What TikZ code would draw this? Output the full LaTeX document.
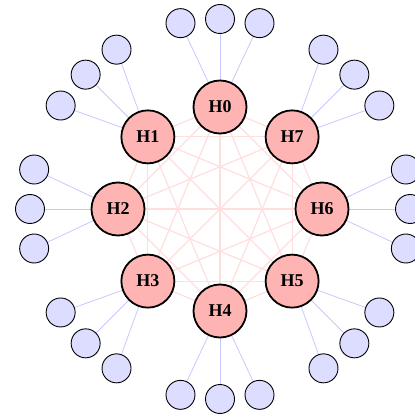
\documentclass[tikz,border=0pt]{standalone}
\usepackage{fontspec}
\setmainfont{Liberation Serif}
\usetikzlibrary{backgrounds}
\definecolor{hubfill}{RGB}{255,180,180}
\definecolor{leaffill}{RGB}{221,221,255}
\definecolor{hublinkc}{RGB}{255,222,222}
\definecolor{leaflinkc}{RGB}{200,200,255}
\begin{document}
\begin{tikzpicture}[
  hub/.style={circle,draw=black,line width=1.8pt,fill=hubfill,minimum size=53pt,inner sep=0pt,
    font=\bfseries\fontsize{18}{18}\selectfont},
  leaf/.style={circle,draw=black,line width=0.9pt,fill=leaffill,minimum size=29pt,inner sep=0pt},
  hublink/.style={draw=hublinkc,line width=1.2pt},
  leaflink/.style={draw=leaflinkc,line width=0.8pt}]
\useasboundingbox (0pt,0pt) rectangle (415pt,-414pt);
\clip (0pt,0pt) rectangle (415pt,-414pt);
\begin{scope}[shift={(220pt,-209pt)}]
  % hubs on the inner ring
  \foreach \k in {0,...,7} {
    \node[hub] (H\k) at ({90+45*\k}:102pt) {H\k};
  }
  % three leaves per hub on the outer ring
  \foreach \k in {0,...,7} {
    \foreach \j/\d in {a/-12,b/0,c/12} {
      \node[leaf] (L\k\j) at ({90+45*\k+\d}:190pt) {};
    }
  }
  \begin{scope}[on background layer]
    % every hub is linked to every other hub
    \foreach \k in {0,...,6} {
      \pgfmathtruncatemacro{\n}{\k+1}
      \foreach \m in {\n,...,7} {
        \draw[hublink] (H\k) -- (H\m);
      }
    }
    % hub-to-leaf links
    \foreach \k in {0,...,7} {
      \foreach \j in {a,b,c} {
        \draw[leaflink] (H\k) -- (L\k\j);
      }
    }
  \end{scope}
\end{scope}
\end{tikzpicture}
\end{document}
